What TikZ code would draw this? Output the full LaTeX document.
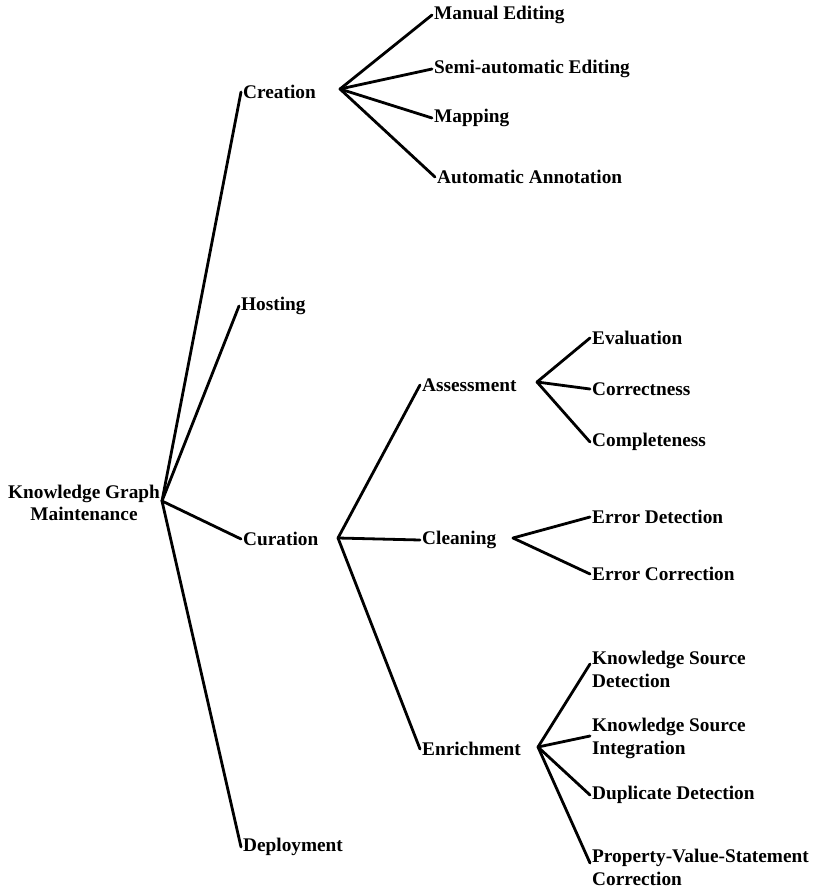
\documentclass[tikz,border=0pt]{standalone}
\usepackage{fontspec}
\setmainfont{Liberation Serif}
\begin{document}
\begin{tikzpicture}[x=1pt,y=-1pt,
  lbl/.style={anchor=west,inner sep=2pt,font=\bfseries\fontsize{19.3}{23}\selectfont,align=left},
  edge/.style={line width=2.8pt,line cap=round,line join=round}]
\useasboundingbox (0,0) rectangle (813,889);
\node[font=\bfseries\fontsize{19.3}{22}\selectfont,align=center,inner sep=2pt] (root) at (84,503) {Knowledge Graph\\Maintenance};
\coordinate (rj) at (162,501);
\node[lbl] (creation) at (241,92) {Creation};
\node[lbl] (hosting) at (239,306) {Hosting};
\node[lbl] (curation) at (241,539) {Curation};
\node[lbl] (deploy) at (241,847) {Deployment};
\coordinate (cj) at (340,89);
\node[lbl] (manual) at (432,15) {Manual Editing};
\node[lbl] (semi) at (432,69) {Semi-automatic Editing};
\node[lbl] (mapping) at (432,118) {Mapping};
\node[lbl] (autoann) at (435,177) {Automatic Annotation};
\coordinate (uj) at (338,538);
\node[lbl] (assess) at (420,385) {Assessment};
\node[lbl] (cleaning) at (420,540) {Cleaning};
\node[lbl] (enrich) at (420,749) {Enrichment};
\coordinate (aj) at (537,382);
\node[lbl] (eval) at (590,338) {Evaluation};
\node[lbl] (correct) at (590,389) {Correctness};
\node[lbl] (complete) at (590,442) {Completeness};
\coordinate (lj) at (513,538);
\node[lbl] (errdet) at (590,517) {Error Detection};
\node[lbl] (errcor) at (590,574) {Error Correction};
\coordinate (ej) at (538,747);
\node[lbl] (ksd) at (590,669) {Knowledge Source\\Detection};
\node[lbl] (ksi) at (590,738) {Knowledge Source\\Integration};
\node[lbl] (dup) at (590,795) {Duplicate Detection};
\node[lbl] (pvs) at (590,867) {Property-Value-Statement\\Correction};
\begin{scope}[edge]
\draw (rj) -- (creation.west);
\draw (rj) -- (hosting.west);
\draw (rj) -- (curation.west);
\draw (rj) -- (deploy.west);
\draw (cj) -- (manual.west);
\draw (cj) -- (semi.west);
\draw (cj) -- (mapping.west);
\draw (cj) -- (autoann.west);
\draw (uj) -- (assess.west);
\draw (uj) -- (cleaning.west);
\draw (uj) -- (enrich.west);
\draw (aj) -- (eval.west);
\draw (aj) -- (correct.west);
\draw (aj) -- (complete.west);
\draw (lj) -- (errdet.west);
\draw (lj) -- (errcor.west);
\draw (ej) -- ([yshift=5pt]ksd.west);
\draw (ej) -- ([yshift=2pt]ksi.west);
\draw (ej) -- (dup.west);
\draw (ej) -- ([yshift=4pt]pvs.west);
\end{scope}
\end{tikzpicture}
\end{document}
